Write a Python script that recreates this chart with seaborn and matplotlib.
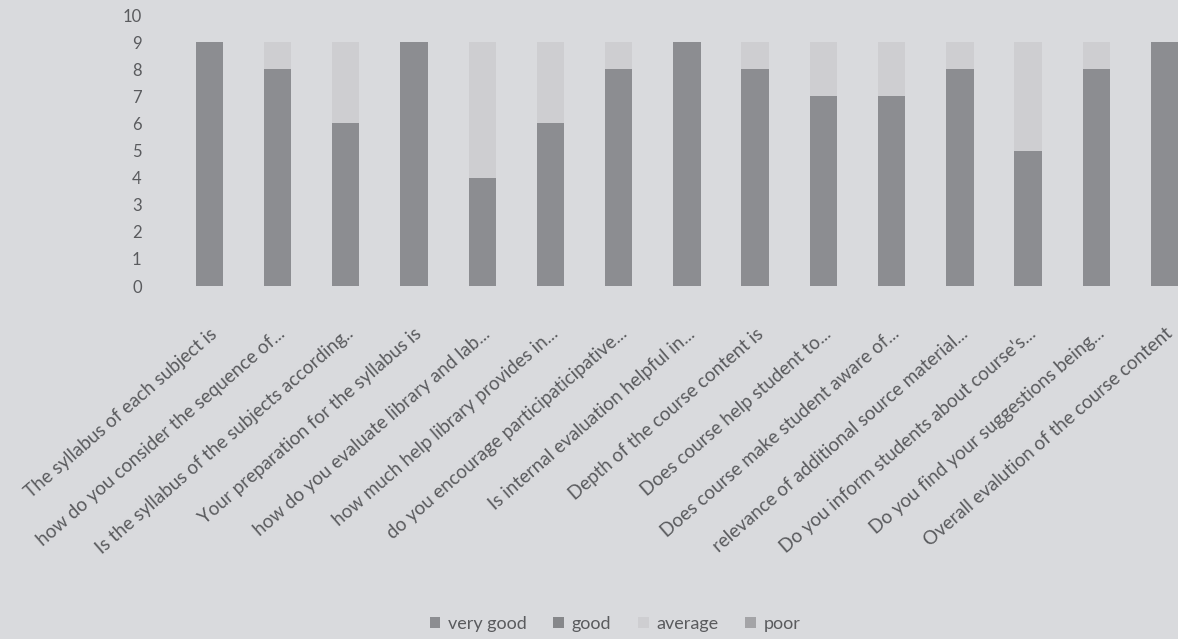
import matplotlib
matplotlib.use("Agg")
import matplotlib.pyplot as plt
import numpy as np
import seaborn as sns

# questions on the x axis (truncated as in the printout)
questions = [
    "The syllabus of each subject is",
    "how do you consider the sequence of...",
    "Is the syllabus of the subjects according..",
    "Your preparation for the syllabus is",
    "how do you evaluate library and lab...",
    "how much help library provides in...",
    "do you encourage participaticipative...",
    "Is internal evaluation helpful in...",
    "Depth of the course content is",
    "Does course help student to...",
    "Does course make student aware of...",
    "relevance of additional source material...",
    "Do you inform students about course's...",
    "Do you find your suggestions being...",
    "Overall evalution of the course content",
]

# response counts per rating
very_good = [9, 8, 6, 9, 4, 6, 8, 9, 8, 7, 7, 8, 5, 8, 9]
good = [0, 0, 0, 0, 0, 0, 0, 0, 0, 0, 0, 0, 0, 0, 0]
average = [0, 1, 3, 0, 5, 3, 1, 0, 1, 2, 2, 1, 4, 1, 0]
poor = [0, 0, 0, 0, 0, 0, 0, 0, 0, 0, 0, 0, 0, 0, 0]

series = [("very good", very_good, "#8b8d92"),
          ("good", good, "#85878b"),
          ("average", average, "#cdced2"),
          ("poor", poor, "#a3a4a8")]

paper = "#d9dadd"
text_col = "#5a5b5e"

sns.set_style("white")
plt.rcParams['font.family'] = ['Lato', 'DejaVu Sans']

fig = plt.figure(figsize=(11.78, 6.39), dpi=100, facecolor=paper)
ax = fig.add_axes([0.1486, 0.5524, 0.869, 0.4241])
ax.set_facecolor(paper)

bottom = np.zeros(len(questions))
for name, vals, col in series:
    sns.barplot(x=questions, y=vals, order=questions, bottom=bottom, color=col,
                width=0.4, label=name, ax=ax, linewidth=0)
    bottom = bottom + np.array(vals)

ax.set_ylim(0, 10)
ax.set_xlim(-0.5, len(questions) - 0.5)
ax.set_yticks(range(0, 11))
ax.tick_params(axis='y', length=0, labelsize=12, colors=text_col, pad=24)
ax.tick_params(axis='x', length=0, labelsize=13.5, colors=text_col, pad=28)
ax.set_xticks(range(len(questions)))
ax.set_xticklabels(questions, rotation=41, ha='right', rotation_mode='anchor')
for s in ax.spines.values():
    s.set_visible(False)
if ax.legend_:
    ax.legend_.remove()

handles, labels = ax.get_legend_handles_labels()
fig.legend(handles, labels, loc='lower center', bbox_to_anchor=(0.522, -0.014), ncol=4,
           frameon=False, fontsize=13, labelcolor=text_col, handlelength=0.6,
           handleheight=0.6, handletextpad=0.4, columnspacing=1.5)

fig.savefig("out.png", dpi=100, facecolor=paper)
